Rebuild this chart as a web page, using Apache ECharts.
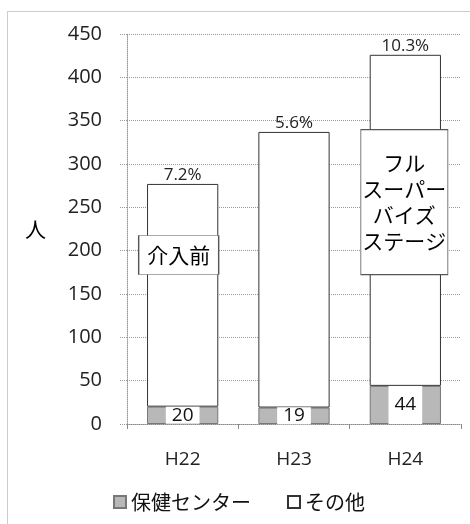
<!DOCTYPE html>
<html>
<head>
<meta charset="utf-8">
<script src="https://cdn.jsdelivr.net/npm/echarts@6/dist/echarts.min.js"></script>
<style>
  html, body { margin: 0; padding: 0; background: #fff; }
  #chart { width: 470px; height: 524px; }
</style>
</head>
<body>
<div id="chart"></div>
<script>
// 年度別の人数（保健センター／その他）
var years = ['H22', 'H23', 'H24'];
var healthCenter = [20, 19, 44];
var others = [257, 318, 382];
var yTicks = [0, 50, 100, 150, 200, 250, 300, 350, 400, 450];

// 注記ボックス
var notes = [
  { year: 'H22', value: 195, text: '介入前' },
  { year: 'H24', value: 256, text: 'フル\nスーパー\nバイズ\nステージ' }
];

var numFont = '"Open Sans", "Noto Sans CJK JP", sans-serif';
var jpFont = '"Noto Sans CJK JP", sans-serif';

var totals = healthCenter.map(function (v, i) { return v + others[i]; });
var shares = healthCenter.map(function (v, i) { return (v / totals[i] * 100).toFixed(1) + '%'; });

var chart = echarts.init(document.getElementById('chart'), null, { renderer: 'canvas' });

var hcData = healthCenter.map(function (v) {
  var tall = v > 30;
  return {
    value: v,
    label: {
      padding: tall ? [9, 6, 9, 6] : [0, 6, 0, 6],
      lineHeight: tall ? 20 : 17
    }
  };
});

var option = {
  animation: false,
  backgroundColor: '#fff',
  grid: { left: 127, right: 9, top: 34, bottom: 100 },
  legend: {
    left: 108,
    top: 487,
    itemWidth: 12,
    itemHeight: 12,
    itemGap: 36,
    textStyle: { fontFamily: jpFont, fontSize: 20, color: '#111' },
    data: [
      { name: '保健センター', icon: 'rect' },
      { name: 'その他', icon: 'rect' }
    ]
  },
  xAxis: {
    type: 'category',
    data: years,
    axisLine: { lineStyle: { color: '#888', type: 'dotted' } },
    axisTick: { show: true, length: 5, lineStyle: { color: '#888' } },
    axisLabel: { fontFamily: numFont, fontSize: 19, color: '#222', margin: 26 }
  },
  yAxis: {
    type: 'value',
    min: yTicks[0],
    max: yTicks[yTicks.length - 1],
    interval: 50,
    name: '人',
    nameLocation: 'middle',
    nameRotate: 0,
    nameGap: 81,
    nameTextStyle: { fontFamily: jpFont, fontSize: 21, color: '#000', padding: [8, 0, 0, 0] },
    axisLine: { show: true, lineStyle: { color: '#999', type: 'dotted' } },
    axisTick: { show: true, length: 8, lineStyle: { color: '#999', type: 'dotted' } },
    axisLabel: { fontFamily: numFont, fontSize: 20, color: '#222', margin: 25 },
    splitLine: { lineStyle: { color: '#999', type: 'dotted' } }
  },
  series: [
    {
      name: '保健センター',
      type: 'bar',
      stack: 'total',
      barWidth: '64%',
      data: hcData,
      itemStyle: { color: '#b8b8b8', borderColor: '#777', borderWidth: 1 },
      label: {
        show: true,
        position: 'inside',
        backgroundColor: '#fff',
        fontFamily: numFont,
        fontSize: 19,
        color: '#111'
      }
    },
    {
      name: 'その他',
      type: 'bar',
      stack: 'total',
      barWidth: '64%',
      data: others,
      itemStyle: { color: '#fff', borderColor: '#333', borderWidth: 1 },
      label: {
        show: true,
        position: 'top',
        distance: 0,
        fontFamily: numFont,
        fontSize: 17,
        color: '#222',
        formatter: function (p) { return shares[p.dataIndex]; }
      },
      markPoint: {
        symbol: 'rect',
        silent: true,
        itemStyle: { color: '#fff', borderColor: '#555', borderWidth: 1 },
        label: {
          show: true,
          position: 'inside',
          fontFamily: jpFont,
          fontSize: 21,
          color: '#000'
        },
        data: [
          {
            coord: [notes[0].year, notes[0].value],
            symbolSize: [80, 39],
            symbolOffset: [-4, 0],
            label: { formatter: notes[0].text, lineHeight: 24 }
          },
          {
            coord: [notes[1].year, notes[1].value],
            symbolSize: [87, 145],
            symbolOffset: [-1, 0],
            label: { formatter: notes[1].text, lineHeight: 26, padding: [5, 0, 0, 0] }
          }
        ]
      }
    }
  ],
  graphic: [
    {
      type: 'rect',
      silent: true,
      shape: { x: 7.5, y: 11.5, width: 480, height: 540 },
      style: { fill: null, stroke: '#999', lineWidth: 1, lineDash: [1, 1] },
      z: -1
    }
  ]
};

chart.setOption(option);
</script>
</body>
</html>
